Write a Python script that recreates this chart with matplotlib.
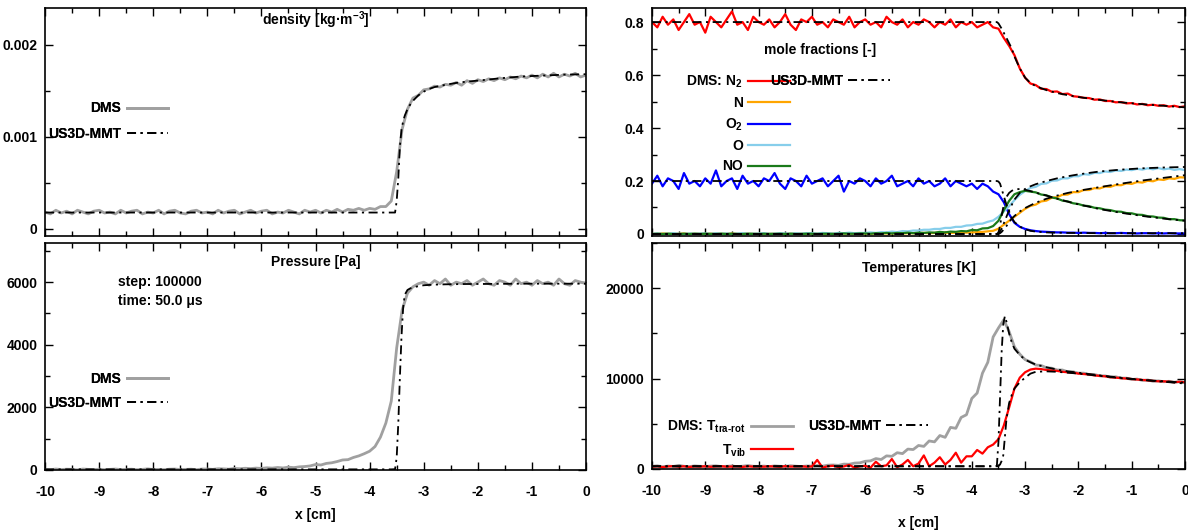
import numpy as np
import matplotlib
matplotlib.use("Agg")
import matplotlib.pyplot as plt
from matplotlib.ticker import MultipleLocator, FuncFormatter

plt.rcParams['font.family'] = ['Liberation Sans', 'DejaVu Sans']
plt.rcParams['font.weight'] = 'bold'
plt.rcParams['font.size'] = 10
plt.rcParams['mathtext.fontset'] = 'custom'
plt.rcParams['mathtext.rm'] = 'Liberation Sans:bold'
plt.rcParams['mathtext.bf'] = 'Liberation Sans:bold'
plt.rcParams['mathtext.it'] = 'Liberation Sans:bold'
plt.rcParams['mathtext.default'] = 'regular'
plt.rcParams['axes.linewidth'] = 1.2
plt.rcParams['axes.unicode_minus'] = False

# ---------------- data ----------------
x_dms = np.round(np.linspace(-10, 0, 101), 2)

rho_dms_e3 = [0.18,0.16,0.20,0.17,0.19,0.16,0.20,0.18,0.16,0.19,
              0.20,0.17,0.18,0.16,0.20,0.17,0.19,0.20,0.16,0.18,
              0.17,0.20,0.16,0.19,0.20,0.17,0.16,0.19,0.20,0.17,
              0.18,0.16,0.20,0.17,0.19,0.20,0.16,0.18,0.20,0.17,
              0.19,0.20,0.16,0.18,0.17,0.20,0.18,0.16,0.20,0.18,
              0.20,0.17,0.20,0.18,0.21,0.18,0.21,0.20,0.22,0.20,
              0.22,0.21,0.24,0.24,0.30,0.62,1.08,1.30,1.42,1.45,
              1.51,1.52,1.55,1.54,1.57,1.56,1.59,1.56,1.61,1.58,
              1.62,1.60,1.63,1.61,1.64,1.62,1.65,1.63,1.66,1.64,
              1.67,1.64,1.68,1.65,1.69,1.65,1.68,1.66,1.69,1.65,
              1.67]

p_dms = [20,10,30,15,25,20,5,30,20,15,
         25,10,20,30,15,20,25,10,20,35,
         15,20,10,25,30,15,20,25,10,30,
         30,20,40,35,25,50,40,55,45,60,
         50,70,60,80,65,90,75,100,110,130,
         175,160,210,230,270,320,330,400,450,520,
         600,750,1050,1500,2200,3900,5100,5650,5850,5950,
         6000,5900,6050,5950,6100,5900,6000,5950,6050,5900,
         6000,6100,5950,5900,6050,6000,5900,6100,5950,6000,
         5900,6050,5950,6000,5900,6100,5950,5900,6050,6000,
         5950]

n2_dms = [0.80,0.78,0.82,0.79,0.81,0.77,0.80,0.83,0.79,0.80,
          0.76,0.82,0.80,0.78,0.81,0.84,0.79,0.80,0.77,0.82,
          0.80,0.79,0.81,0.78,0.80,0.83,0.79,0.77,0.81,0.80,
          0.82,0.79,0.80,0.78,0.81,0.80,0.79,0.82,0.78,0.80,
          0.81,0.79,0.80,0.78,0.82,0.80,0.79,0.81,0.78,0.80,
          0.79,0.81,0.80,0.78,0.80,0.79,0.81,0.78,0.80,0.79,
          0.80,0.78,0.79,0.80,0.78,0.775,0.74,0.71,0.675,0.625,
          0.59,0.568,0.562,0.548,0.547,0.537,0.538,0.528,0.530,0.520,
          0.518,0.514,0.513,0.507,0.508,0.502,0.502,0.497,0.498,0.493,
          0.494,0.489,0.491,0.486,0.488,0.484,0.486,0.481,0.484,0.479,
          0.482]

n_dms = [0.001,0.000,0.002,0.001,0.000,0.001,0.002,0.000,0.001,0.001,
         0.000,0.002,0.001,0.001,0.000,0.002,0.001,0.000,0.001,0.002,
         0.001,0.000,0.001,0.002,0.001,0.000,0.001,0.001,0.002,0.000,
         0.001,0.002,0.001,0.000,0.002,0.001,0.001,0.002,0.001,0.002,
         0.002,0.001,0.002,0.003,0.002,0.002,0.003,0.002,0.003,0.003,
         0.003,0.004,0.003,0.004,0.004,0.005,0.004,0.005,0.006,0.005,
         0.006,0.007,0.008,0.010,0.012,0.020,0.035,0.050,0.065,0.080,
         0.095,0.106,0.111,0.123,0.126,0.137,0.139,0.148,0.149,0.158,
         0.158,0.166,0.166,0.173,0.172,0.179,0.178,0.185,0.184,0.191,
         0.189,0.196,0.194,0.201,0.199,0.206,0.204,0.210,0.208,0.214,
         0.213]

o2_dms = [0.19,0.22,0.18,0.21,0.20,0.17,0.23,0.19,0.20,0.18,
          0.21,0.19,0.24,0.18,0.20,0.21,0.17,0.22,0.19,0.20,
          0.18,0.21,0.20,0.23,0.19,0.17,0.21,0.20,0.18,0.22,
          0.19,0.20,0.21,0.18,0.20,0.22,0.16,0.20,0.19,0.21,
          0.20,0.18,0.21,0.19,0.20,0.22,0.18,0.19,0.20,0.18,
          0.21,0.19,0.20,0.18,0.19,0.21,0.18,0.20,0.19,0.18,
          0.19,0.17,0.19,0.18,0.16,0.15,0.12,0.075,0.042,0.027,
          0.019,0.014,0.011,0.009,0.008,0.007,0.006,0.006,0.005,0.005,
          0.004,0.005,0.004,0.004,0.003,0.004,0.003,0.003,0.004,0.003,
          0.003,0.002,0.003,0.003,0.002,0.003,0.002,0.003,0.002,0.002,
          0.002]

o_dms = [0.001,0.002,0.000,0.001,0.003,0.001,0.000,0.002,0.001,0.002,
         0.002,0.001,0.003,0.001,0.002,0.000,0.002,0.003,0.001,0.002,
         0.002,0.003,0.001,0.002,0.003,0.002,0.001,0.003,0.002,0.003,
         0.003,0.002,0.004,0.003,0.002,0.004,0.003,0.005,0.003,0.004,
         0.004,0.006,0.004,0.007,0.006,0.009,0.007,0.011,0.010,0.013,
         0.013,0.016,0.016,0.019,0.019,0.023,0.023,0.027,0.027,0.032,
         0.033,0.038,0.039,0.046,0.051,0.065,0.085,0.105,0.128,0.148,
         0.162,0.174,0.178,0.189,0.191,0.201,0.202,0.210,0.210,0.218,
         0.218,0.226,0.224,0.231,0.230,0.236,0.234,0.240,0.238,0.243,
         0.241,0.246,0.243,0.248,0.244,0.249,0.244,0.247,0.242,0.245,
         0.241]

no_dms = [0.000,0.001,0.000,0.001,0.000,0.000,0.001,0.000,0.001,0.000,
          0.001,0.000,0.000,0.001,0.000,0.001,0.000,0.000,0.001,0.000,
          0.000,0.001,0.000,0.000,0.001,0.000,0.001,0.000,0.000,0.001,
          0.001,0.000,0.001,0.001,0.000,0.001,0.002,0.001,0.001,0.002,
          0.002,0.001,0.003,0.002,0.004,0.002,0.004,0.003,0.005,0.003,
          0.005,0.004,0.006,0.005,0.008,0.006,0.009,0.008,0.011,0.010,
          0.015,0.014,0.021,0.022,0.030,0.050,0.090,0.125,0.150,0.158,
          0.163,0.160,0.157,0.149,0.146,0.138,0.134,0.126,0.123,0.116,
          0.113,0.107,0.105,0.099,0.097,0.092,0.090,0.085,0.084,0.079,
          0.078,0.073,0.072,0.067,0.066,0.062,0.061,0.056,0.056,0.052,
          0.051]

ttr_dms = [300,350,250,320,280,400,300,260,340,300,
           280,320,350,270,300,330,260,310,380,300,
           290,320,260,340,300,280,360,310,270,330,
           320,380,310,420,440,400,540,520,650,680,
           850,900,1150,1050,1450,1400,1800,1700,2200,2150,
           2600,2500,3100,3000,3700,3500,4600,4500,5700,6000,
           7800,8400,10600,11800,14600,15600,16500,15200,13500,12700,
           12100,11850,11500,11450,11200,11150,10950,10950,10750,10750,
           10600,10600,10450,10450,10300,10300,10150,10200,10050,10050,
           9900,9950,9800,9850,9700,9750,9650,9700,9600,9650,
           9550]

tvib_dms = [250,300,200,280,320,250,300,220,280,260,
            300,240,280,310,250,270,300,230,290,260,
            280,250,300,270,240,310,260,280,300,250,
            280,1000,150,300,350,200,280,450,150,300,
            350,150,800,300,400,1100,200,500,1000,300,
            600,1500,300,700,1300,500,1000,1800,700,1400,
            1400,2100,1700,2400,2700,3300,4800,6800,8900,10100,
            10700,11000,11100,11050,10950,10900,10850,10750,10700,10650,
            10550,10500,10450,10350,10300,10250,10150,10100,10050,10000,
            9950,9900,9850,9800,9750,9700,9700,9650,9600,9650,
            9600]

x_us3d = [-10.0, -6.0, -4.0, -3.6, -3.53, -3.5, -3.47, -3.44, -3.41, -3.38,
          -3.35, -3.3, -3.25, -3.2, -3.1, -3.0, -2.9, -2.8, -2.6, -2.4,
          -2.2, -2.0, -1.6, -1.2, -0.8, -0.4, 0.0]
rho_us3d_e3 = [0.175,0.175,0.175,0.175,0.175,0.30,0.55,0.90,1.08,1.17,
               1.23,1.30,1.35,1.39,1.45,1.49,1.52,1.54,1.565,1.585,
               1.60,1.61,1.635,1.655,1.665,1.675,1.68]
p_us3d = [20,20,20,20,25,400,1500,3000,4300,5200,
          5600,5750,5800,5830,5870,5900,5910,5920,5930,5935,
          5940,5940,5945,5950,5950,5950,5950]
n2_us3d = [0.80,0.80,0.80,0.80,0.80,0.795,0.785,0.775,0.765,0.75,
           0.74,0.72,0.70,0.67,0.625,0.59,0.57,0.558,0.543,0.532,
           0.524,0.517,0.506,0.497,0.49,0.484,0.478]
n_us3d = [0,0,0,0,0,0,0.003,0.008,0.015,0.022,
          0.03,0.045,0.058,0.068,0.085,0.098,0.108,0.118,0.133,0.145,
          0.155,0.163,0.177,0.19,0.202,0.212,0.222]
o2_us3d = [0.2,0.2,0.2,0.2,0.2,0.198,0.19,0.17,0.15,0.13,
           0.11,0.085,0.06,0.045,0.028,0.018,0.012,0.009,0.006,0.005,
           0.004,0.004,0.003,0.003,0.003,0.003,0.003]
o_us3d = [0,0,0,0,0,0.003,0.01,0.02,0.035,0.05,
          0.065,0.09,0.11,0.13,0.155,0.17,0.18,0.188,0.2,0.21,
          0.218,0.225,0.236,0.243,0.248,0.251,0.253]
no_us3d = [0,0,0,0,0,0.005,0.03,0.07,0.10,0.125,
           0.14,0.155,0.163,0.168,0.17,0.167,0.162,0.156,0.145,0.133,
           0.122,0.112,0.094,0.08,0.068,0.058,0.05]
ttr_us3d = [300,300,300,300,350,3000,8000,13000,16000,16900,
            16300,15000,14000,13300,12600,12100,11800,11550,11250,11000,
            10800,10650,10350,10100,9850,9650,9450]
tvib_us3d = [300,300,300,300,300,320,500,900,1500,3500,
             5500,7300,8200,8900,9600,10100,10550,10750,10800,10750,
             10650,10550,10300,10050,9850,9700,9550]

rho_dms = np.array(rho_dms_e3) * 1e-3
rho_us3d = np.array(rho_us3d_e3) * 1e-3

# ---------------- styles ----------------
GRAY = '#a0a0a0'
DD = (0, (5, 2.5, 1.2, 2.5))
US_KW = dict(color='black', lw=1.3, ls=DD)
DMS_LW = 2.0

fig = plt.figure(figsize=(11.88, 5.31), dpi=100)
ax_rho = fig.add_axes([0.0379, 0.5556, 0.4554, 0.4293])
ax_p = fig.add_axes([0.0379, 0.1149, 0.4554, 0.4275])
ax_x = fig.add_axes([0.5488, 0.5556, 0.4487, 0.4293])
ax_T = fig.add_axes([0.5488, 0.1168, 0.4487, 0.4256])


def style(ax, major, minor, labels_x):
    ax.set_xlim(-10, 0)
    ax.xaxis.set_major_locator(MultipleLocator(1))
    ax.xaxis.set_minor_locator(MultipleLocator(0.5))
    ax.yaxis.set_major_locator(MultipleLocator(major))
    ax.yaxis.set_minor_locator(MultipleLocator(minor))
    ax.tick_params(which='both', direction='in', top=True, right=True,
                   width=1.0, labelsize=10)
    ax.tick_params(axis='y', pad=5.5)
    ax.tick_params(axis='x', pad=11)
    ax.tick_params(which='major', length=6)
    ax.tick_params(which='minor', length=3.5)
    if not labels_x:
        ax.tick_params(labelbottom=False)
    for lab in ax.get_xticklabels() + ax.get_yticklabels():
        lab.set_fontweight('bold')


def legend(ax, handles, labels, anchor, spacing):
    lg = ax.legend(handles, labels, loc='upper right', bbox_to_anchor=anchor,
                   frameon=False, markerfirst=False, borderpad=0, borderaxespad=0,
                   handlelength=3.0, handletextpad=0.4, labelspacing=spacing,
                   prop={'weight': 'bold', 'size': 10})
    ax.add_artist(lg)
    return lg


# density
l1, = ax_rho.plot(x_dms, rho_dms, color=GRAY, lw=DMS_LW)
l2, = ax_rho.plot(x_us3d, rho_us3d, **US_KW)
ax_rho.set_ylim(-0.00008, 0.0024)
style(ax_rho, 0.001, 0.0005, False)
ax_rho.yaxis.set_major_formatter(FuncFormatter(
    lambda v, p: '0' if abs(v) < 1e-12 else f'{v:.3f}'))
ax_rho.text(0.5, 0.945, 'density [kg·m$^{-3}$]', transform=ax_rho.transAxes,
            ha='center', va='center', fontweight='bold')
legend(ax_rho, [l1, l2], ['DMS', 'US3D-MMT'], (0.228, 0.59), 0.8)

# pressure
l1, = ax_p.plot(x_dms, p_dms, color=GRAY, lw=DMS_LW)
l2, = ax_p.plot(x_us3d, p_us3d, **US_KW)
ax_p.set_ylim(0, 7250)
style(ax_p, 2000, 1000, True)
ax_p.text(0.5, 0.915, 'Pressure [Pa]', transform=ax_p.transAxes,
          ha='center', va='center', fontweight='bold')
ax_p.text(0.135, 0.83, 'step: 100000', transform=ax_p.transAxes,
          ha='left', va='center', fontweight='bold')
ax_p.text(0.135, 0.746, 'time: 50.0 μs', transform=ax_p.transAxes,
          ha='left', va='center', fontweight='bold')
legend(ax_p, [l1, l2], ['DMS', 'US3D-MMT'], (0.228, 0.432), 0.75)
ax_p.set_xlabel('x [cm]', fontweight='bold', labelpad=6)

# mole fractions
h_n2, = ax_x.plot(x_dms, n2_dms, color='#ff0000', lw=1.6)
h_n, = ax_x.plot(x_dms, n_dms, color='#ffa500', lw=1.6)
h_o2, = ax_x.plot(x_dms, o2_dms, color='#0000ff', lw=1.6)
h_o, = ax_x.plot(x_dms, o_dms, color='#87ceeb', lw=1.6)
h_no, = ax_x.plot(x_dms, no_dms, color='#1a7a1a', lw=1.6)
for ser in (n2_us3d, n_us3d, o2_us3d, o_us3d, no_us3d):
    h_us, = ax_x.plot(x_us3d, ser, **US_KW)
ax_x.set_ylim(-0.0075, 0.853)
style(ax_x, 0.2, 0.1, False)
ax_x.yaxis.set_major_formatter(FuncFormatter(
    lambda v, p: '0' if abs(v) < 1e-12 else f'{v:.1f}'))
ax_x.text(0.315, 0.816, 'mole fractions [-]', transform=ax_x.transAxes,
          ha='center', va='center', fontweight='bold')
legend(ax_x, [h_n2, h_n, h_o2, h_o, h_no],
       ['DMS: N$_2$', 'N', 'O$_2$', 'O', 'NO'], (0.259, 0.712), 0.45)
legend(ax_x, [h_us], ['US3D-MMT'], (0.4465, 0.712), 0.45)

# temperatures
h_tt, = ax_T.plot(x_dms, ttr_dms, color=GRAY, lw=DMS_LW)
h_tv, = ax_T.plot(x_dms, tvib_dms, color='#ff0000', lw=1.6)
h_us, = ax_T.plot(x_us3d, ttr_us3d, **US_KW)
ax_T.plot(x_us3d, tvib_us3d, **US_KW)
ax_T.set_ylim(0, 25000)
style(ax_T, 10000, 5000, True)
ax_T.text(0.5, 0.889, 'Temperatures [K]', transform=ax_T.transAxes,
          ha='center', va='center', fontweight='bold')
legend(ax_T, [h_tt, h_tv], ['DMS: T$_{\\text{tra-rot}}$', 'T$_{vib}$'],
       (0.2645, 0.222), 0.5)
legend(ax_T, [h_us], ['US3D-MMT'], (0.518, 0.222), 0.5)
ax_T.set_xlabel('x [cm]', fontweight='bold', labelpad=13)

fig.savefig('out.png', dpi=100)
